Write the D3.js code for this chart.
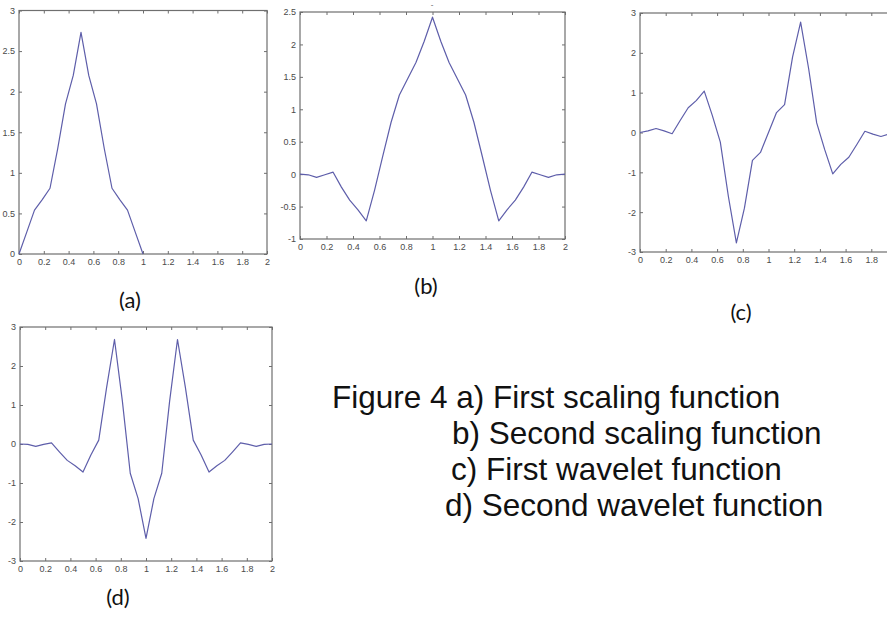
<!DOCTYPE html>
<html>
<head>
<meta charset="utf-8">
<script src="https://cdn.jsdelivr.net/npm/d3@7"></script>
<style>
  html, body { margin: 0; padding: 0; background: #fff; }
  svg { display: block; }
</style>
</head>
<body>
<svg id="chart" width="887" height="620"></svg>
<script>
// ---- Data (sampled every 1/16) ----
const xTickLabels = [0, 0.2, 0.4, 0.6, 0.8, 1, 1.2, 1.4, 1.6, 1.8, 2];
// panel (c) is cut by the picture edge, its last tick "2" lies outside the picture
const xTickLabelsC = [0, 0.2, 0.4, 0.6, 0.8, 1, 1.2, 1.4, 1.6, 1.8];

const xA = [0, 0.0625, 0.125, 0.1875, 0.25, 0.3125, 0.375, 0.4375, 0.5,
            0.5625, 0.625, 0.6875, 0.75, 0.8125, 0.875, 0.9375, 1];
const firstScaling = [0, 0.27, 0.54, 0.67, 0.81, 1.3, 1.85, 2.2, 2.73,
                      2.2, 1.85, 1.3, 0.81, 0.67, 0.54, 0.27, 0];

const xFull = [0, 0.0625, 0.125, 0.1875, 0.25, 0.3125, 0.375, 0.4375, 0.5,
               0.5625, 0.625, 0.6875, 0.75, 0.8125, 0.875, 0.9375, 1,
               1.0625, 1.125, 1.1875, 1.25, 1.3125, 1.375, 1.4375, 1.5,
               1.5625, 1.625, 1.6875, 1.75, 1.8125, 1.875, 1.9375, 2];

const secondScaling = [0, -0.01, -0.05, -0.01, 0.03, -0.2, -0.4, -0.55, -0.72,
                       -0.25, 0.28, 0.8, 1.22, 1.47, 1.72, 2.05, 2.42,
                       2.05, 1.72, 1.47, 1.22, 0.8, 0.28, -0.25, -0.72,
                       -0.55, -0.4, -0.2, 0.03, -0.01, -0.05, -0.01, 0];

const firstWavelet = [0, 0.04, 0.1, 0.04, -0.03, 0.3, 0.62, 0.8, 1.04,
                      0.43, -0.24, -1.6, -2.77, -1.9, -0.7, -0.5, 0,
                      0.5, 0.7, 1.9, 2.77, 1.6, 0.24, -0.43, -1.04,
                      -0.8, -0.62, -0.3, 0.03, -0.04, -0.1, -0.04, 0];

const secondWavelet = [0, -0.01, -0.06, -0.01, 0.03, -0.2, -0.42, -0.56, -0.72,
                       -0.28, 0.1, 1.45, 2.68, 1.1, -0.75, -1.4, -2.42,
                       -1.4, -0.75, 1.1, 2.68, 1.45, 0.1, -0.28, -0.72,
                       -0.56, -0.42, -0.2, 0.03, -0.01, -0.06, -0.01, 0];

const yTicksA = [0, 0.5, 1, 1.5, 2, 2.5, 3];
const yTicksB = [-1, -0.5, 0, 0.5, 1, 1.5, 2, 2.5];
const yTicksC = [-3, -2, -1, 0, 1, 2, 3];
const yTicksD = [-3, -2, -1, 0, 1, 2, 3];

const panelLabels = ["(a)", "(b)", "(c)", "(d)"];
const captionLines = [
  "Figure 4 a) First scaling function",
  "b) Second scaling function",
  "c) First wavelet function",
  "d) Second wavelet function"
];

// ---- Layout ----
const panels = [
  { xs: xA,    ys: firstScaling,  xTicks: xTickLabels,  yTicks: yTicksA, yDom: [0, 3],    box: { l: 19,  r: 267, t: 10.5, b: 254 }, label: [130, 308] },
  { xs: xFull, ys: secondScaling, xTicks: xTickLabels,  yTicks: yTicksB, yDom: [-1, 2.5], box: { l: 300, r: 565, t: 12,   b: 239 }, label: [426, 294] },
  { xs: xFull, ys: firstWavelet,  xTicks: xTickLabelsC, yTicks: yTicksC, yDom: [-3, 3],   box: { l: 640, r: 897, t: 13,   b: 252 }, label: [741, 320] },
  { xs: xFull, ys: secondWavelet, xTicks: xTickLabels,  yTicks: yTicksD, yDom: [-3, 3],   box: { l: 20,  r: 272, t: 327,  b: 561 }, label: [118, 605] }
];

const svg = d3.select("#chart");
const axisColor = "#6f6f6f";
const lineColor = "#5e5eaa";
const tickLen = 3;
const fmt = d => String(d);

panels.forEach((p, i) => {
  const x = d3.scaleLinear().domain([0, 2]).range([p.box.l, p.box.r]);
  const y = d3.scaleLinear().domain(p.yDom).range([p.box.b, p.box.t]);
  const g = svg.append("g");

  g.append("rect")
    .attr("x", p.box.l).attr("y", p.box.t)
    .attr("width", p.box.r - p.box.l).attr("height", p.box.b - p.box.t)
    .attr("fill", "#fff");

  const styleAxis = sel => {
    sel.select(".domain").remove();
    sel.selectAll(".tick line").attr("stroke", axisColor).attr("stroke-width", 1);
    sel.selectAll(".tick text")
      .attr("fill", "#4a4a4a")
      .style("font-family", "'Liberation Sans', Arial, sans-serif")
      .style("font-size", "9px");
  };

  g.append("g").attr("transform", `translate(0,${p.box.b})`)
    .call(d3.axisBottom(x).tickValues(p.xTicks).tickFormat(fmt)
      .tickSizeInner(-tickLen).tickSizeOuter(0).tickPadding(5))
    .call(styleAxis);
  g.append("g").attr("transform", `translate(0,${p.box.t})`)
    .call(d3.axisTop(x).tickValues(p.xTicks).tickFormat("")
      .tickSizeInner(-tickLen).tickSizeOuter(0))
    .call(styleAxis);
  g.append("g").attr("transform", `translate(${p.box.l},0)`)
    .call(d3.axisLeft(y).tickValues(p.yTicks).tickFormat(fmt)
      .tickSizeInner(-tickLen).tickSizeOuter(0).tickPadding(4))
    .call(styleAxis);
  g.append("g").attr("transform", `translate(${p.box.r},0)`)
    .call(d3.axisRight(y).tickValues(p.yTicks).tickFormat("")
      .tickSizeInner(-tickLen).tickSizeOuter(0))
    .call(styleAxis);

  g.append("rect")
    .attr("x", p.box.l).attr("y", p.box.t)
    .attr("width", p.box.r - p.box.l).attr("height", p.box.b - p.box.t)
    .attr("fill", "none").attr("stroke", axisColor).attr("stroke-width", 1.2);

  const pts = p.xs.map((v, k) => [v, p.ys[k]]);
  g.append("path")
    .datum(pts)
    .attr("fill", "none")
    .attr("stroke", lineColor)
    .attr("stroke-width", 1.2)
    .attr("stroke-linejoin", "round")
    .attr("d", d3.line().x(d => x(d[0])).y(d => y(d[1])));

  svg.append("text")
    .attr("x", p.label[0]).attr("y", p.label[1])
    .attr("text-anchor", "middle")
    .style("font-family", "Lato, 'Open Sans', sans-serif")
    .style("font-size", "22px")
    .attr("fill", "#111")
    .text(panelLabels[i]);
});

svg.append("text").attr("x", 432).attr("y", 7).attr("text-anchor", "middle")
  .style("font-family", "'Liberation Sans', Arial, sans-serif").style("font-size", "8px")
  .attr("fill", "#555").text("-");

const capPos = [[332, 408], [452, 444], [451, 480], [445, 516]];
captionLines.forEach((t, i) => {
  svg.append("text")
    .attr("x", capPos[i][0]).attr("y", capPos[i][1])
    .style("font-family", "'Liberation Sans', Arial, Helvetica, sans-serif")
    .style("font-size", "31.5px")
    .attr("fill", "#111")
    .text(t);
});
</script>
</body>
</html>
